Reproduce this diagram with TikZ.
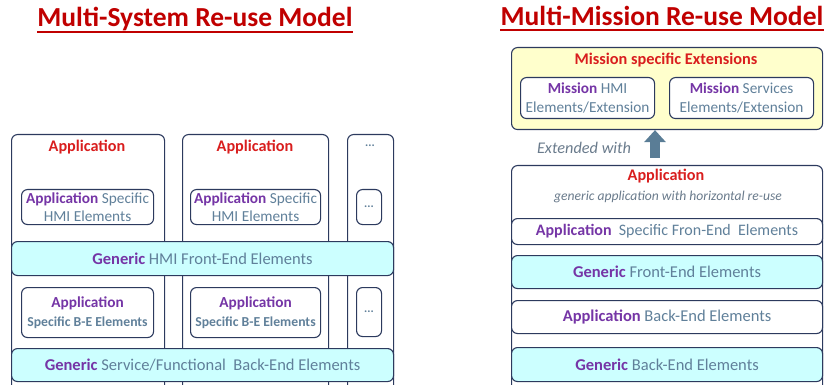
\documentclass[tikz,border=0pt]{standalone}
\usepackage{fontspec}
\setmainfont{Carlito}
\usetikzlibrary{arrows.meta}

\definecolor{titlered}{HTML}{C00000}
\definecolor{appred}{HTML}{D91E1E}
\definecolor{violet}{HTML}{7535A6}
\definecolor{slate}{HTML}{60809A}
\definecolor{italgray}{HTML}{6A7B8C}
\definecolor{edge}{HTML}{2C3A5E}
\definecolor{cyanfill}{HTML}{CCFFFF}
\definecolor{yellowfill}{HTML}{FFFFCC}
\definecolor{arrowblue}{HTML}{5A7D96}

\newcommand{\pv}[1]{{\bfseries\color{violet}#1}}
\newcommand{\sg}[1]{{\color{slate}#1}}

\tikzset{
  frame/.style={draw=edge, line width=1.1pt, rounded corners=6pt, fill=white,
    anchor=north west, inner sep=0pt},
  band/.style={frame, fill=cyanfill},
  plain/.style={frame},
  yellowbox/.style={frame, fill=yellowfill},
  lbl/.style={inner sep=0pt, align=center, font=\fontsize{16.5}{19}\selectfont},
  boxlbl/.style={inner sep=0pt, align=center, font=\fontsize{15.3}{18.5}\selectfont},
  dotlbl/.style={inner sep=0pt, text=slate, font=\fontsize{12}{12}\selectfont\bfseries},
  applbl/.style={inner sep=0pt, font=\fontsize{16.2}{18}\selectfont\bfseries, text=appred},
  titlelbl/.style={inner sep=0pt, font=\fontsize{27.5}{32}\selectfont\bfseries, text=titlered},
  uline/.style={titlered, line width=1.8pt},
  bigarrow/.style={draw=arrowblue, line width=10pt,
    -{Triangle[length=12pt,width=21pt]}, arrowblue},
}

\begin{document}
\begin{tikzpicture}[x=1pt,y=-1pt]
\useasboundingbox (0,0) rectangle (825,385);
\clip (0,0) rectangle (825,385);

% ---------------- Multi-System Re-use Model ----------------
\node[titlelbl] (ltitle) at (195,19) {Multi-System Re-use Model};
\draw[uline] (ltitle.south west |- 0,32) -- (ltitle.south east |- 0,32);

% application columns (run off the bottom edge)
\node[plain, minimum width=153pt, minimum height=266pt] (col1) at (11,134) {};
\node[plain, minimum width=146pt, minimum height=266pt] (col2) at (182,134) {};
\node[plain, minimum width=46pt,  minimum height=266pt] (col3) at (347,134) {};

\node[applbl] (app1) at (87,147) {Application};
\node[applbl] (app2) at (255,147) {Application};
\node[dotlbl] (dots3) at (370,146) {...};

% HMI elements per application
\node[plain, minimum width=132pt, minimum height=35pt] (hmi1) at (21,189) {};
\node[boxlbl] at (hmi1.center) {\pv{Application} \sg{Specific}\\\sg{HMI Elements}};
\node[plain, minimum width=130pt, minimum height=35pt] (hmi2) at (190,189) {};
\node[boxlbl] at (hmi2.center) {\pv{Application} \sg{Specific}\\\sg{HMI Elements}};
\node[plain, minimum width=25pt, minimum height=35pt] (hmi3) at (356,189) {};
\node[dotlbl] at (hmi3.center) {...};

% generic HMI front-end band
\node[band, minimum width=382pt, minimum height=34pt] (gfe) at (11,241) {};
\node[lbl] at (gfe.center) {\pv{Generic} \sg{HMI Front-End Elements}};

% back-end elements per application
\node[plain, minimum width=132pt, minimum height=50pt] (be1) at (21,287) {};
\node[boxlbl] at (be1.center) {\pv{Application}\\[0.5pt]{\fontsize{13.7}{15}\selectfont\bfseries\color{slate}Specific B-E Elements}};
\node[plain, minimum width=130pt, minimum height=50pt] (be2) at (190,287) {};
\node[boxlbl] at (be2.center) {\pv{Application}\\[0.5pt]{\fontsize{13.7}{15}\selectfont\bfseries\color{slate}Specific B-E Elements}};
\node[plain, minimum width=25pt, minimum height=49pt] (be3) at (356,287) {};
\node[dotlbl] at (be3.center) {...};

% generic back-end band
\node[band, minimum width=382pt, minimum height=33pt] (gbe) at (11,348) {};
\node[lbl] at (gbe.center) {\pv{Generic} \sg{Service/Functional\ \ Back-End Elements}};

% ---------------- Multi-Mission Re-use Model ----------------
\node[titlelbl] (rtitle) at (662,16) {Multi-Mission Re-use Model};
\draw[uline] (rtitle.south west |- 0,30) -- (rtitle.south east |- 0,30);

% mission specific extensions
\node[yellowbox, minimum width=311pt, minimum height=82pt] (ext) at (511,47) {};
\node[lbl, font=\fontsize{16.3}{19}\selectfont\bfseries, text=appred] (exttitle) at (666,60) {Mission specific Extensions};
\node[plain, minimum width=134pt, minimum height=41pt] (mhmi) at (520,77) {};
\node[boxlbl] at (mhmi.center) {\pv{Mission} \sg{HMI}\\\sg{Elements/Extension}};
\node[plain, minimum width=144pt, minimum height=41pt] (msrv) at (669,77) {};
\node[boxlbl] at (msrv.center) {\pv{Mission} \sg{Services}\\\sg{Elements/Extension}};

% generic application stack
\node[plain, minimum width=311pt, minimum height=240pt] (gapp) at (511,165) {};
\node[applbl] (gapptitle) at (666,176) {Application};
\node[inner sep=0pt, font=\fontsize{13.6}{15}\selectfont\itshape, text=italgray] (gappsub) at (668,197) {generic application with horizontal re-use};

\node[plain, minimum width=311pt, minimum height=26pt] (asfe) at (511,218) {};
\node[lbl, font=\fontsize{16}{19}\selectfont] at (asfe.center) {\pv{Application}\ \ \sg{Specific Fron-End\ \ Elements}};
\node[band, minimum width=311pt, minimum height=33pt] (rgfe) at (511,255) {};
\node[lbl] at (rgfe.center) {\pv{Generic} \sg{Front-End Elements}};
\node[plain, minimum width=311pt, minimum height=33pt] (abe) at (511,300) {};
\node[lbl] at (abe.center) {\pv{Application}\ \sg{Back-End Elements}};
\node[band, minimum width=311pt, minimum height=34pt] (rgbe) at (511,347) {};
\node[lbl] at (rgbe.center) {\pv{Generic} \sg{Back-End Elements}};

% extension arrow
\coordinate (arrowbase) at (655,158);
\draw[bigarrow] (arrowbase) -- (arrowbase |- ext.south);
\node[inner sep=0pt, font=\fontsize{16.3}{19}\selectfont\itshape, text=italgray] (extw) at (584,148) {Extended with};

\end{tikzpicture}
\end{document}
